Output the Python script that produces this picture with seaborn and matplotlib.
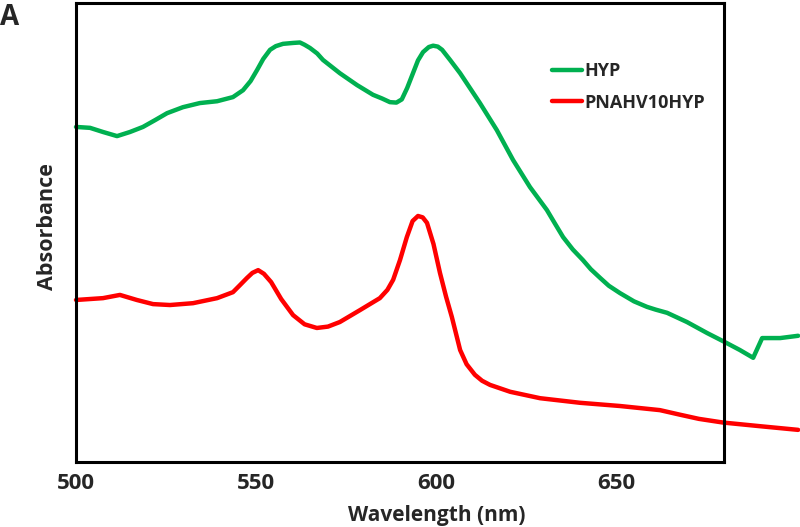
import numpy as np
import pandas as pd
import seaborn as sns
import matplotlib.pyplot as plt

# HYP spectrum (arbitrary absorbance units)
hyp_wl = [500.0, 503.9, 507.5, 511.4, 515.0, 518.6, 522.0, 525.3, 529.7, 534.4,
          539.2, 543.6, 546.4, 548.5, 550.3, 552.0, 553.9, 555.5, 557.5, 560.3,
          562.2, 563.5, 565.0, 567.0, 568.6, 573.3, 578.1, 582.5, 585.0, 587.2,
          589.0, 590.5, 592.0, 593.6, 595.0, 596.4, 598.0, 599.2, 600.5, 601.7,
          604.0, 606.7, 612.2, 616.9, 621.4, 626.1, 630.8, 633.0, 635.3, 638.0,
          640.8, 643.0, 645.6, 648.0, 651.1, 655.0, 658.6, 661.0, 664.2, 669.7,
          675.3, 680.3, 684.4, 688.1, 690.6, 695.6, 700.6]
hyp_abs = [0.730, 0.728, 0.719, 0.710, 0.719, 0.730, 0.745, 0.760, 0.773, 0.782,
           0.786, 0.795, 0.810, 0.830, 0.854, 0.878, 0.898, 0.906, 0.911, 0.913,
           0.914, 0.909, 0.902, 0.890, 0.876, 0.847, 0.821, 0.800, 0.792, 0.784,
           0.783, 0.790, 0.815, 0.847, 0.875, 0.893, 0.904, 0.907, 0.905, 0.898,
           0.875, 0.847, 0.782, 0.723, 0.658, 0.599, 0.549, 0.520, 0.490, 0.463,
           0.440, 0.420, 0.401, 0.384, 0.368, 0.350, 0.338, 0.332, 0.325, 0.305,
           0.281, 0.261, 0.244, 0.227, 0.270, 0.270, 0.275]

# PNAHV10HYP spectrum
pna_wl = [500.0, 507.5, 512.2, 516.9, 521.4, 526.1, 532.5, 539.2, 543.6, 545.5,
          547.5, 549.0, 550.6, 552.2, 554.2, 557.0, 560.3, 563.5, 566.9, 570.0,
          573.3, 578.9, 584.4, 586.5, 588.1, 590.0, 591.9, 593.5, 595.0, 596.3,
          597.5, 599.3, 601.1, 602.8, 604.4, 606.7, 608.5, 610.8, 612.8, 615.0,
          620.6, 628.9, 640.0, 651.1, 662.2, 667.8, 673.0, 679.7, 690.0, 700.6]
pna_abs = [0.353, 0.357, 0.364, 0.353, 0.344, 0.342, 0.346, 0.357, 0.370, 0.385,
           0.401, 0.412, 0.418, 0.410, 0.392, 0.355, 0.320, 0.300, 0.292, 0.295,
           0.305, 0.331, 0.357, 0.375, 0.397, 0.440, 0.490, 0.525, 0.536, 0.533,
           0.521, 0.475, 0.412, 0.360, 0.316, 0.244, 0.213, 0.190, 0.177, 0.168,
           0.153, 0.139, 0.129, 0.122, 0.113, 0.103, 0.094, 0.086, 0.078, 0.070]

x_ticks = [500, 550, 600, 650]

sns.set_style("white")
plt.rcParams['font.family'] = ['Open Sans', 'DejaVu Sans']
plt.rcParams['font.weight'] = 'bold'

fig = plt.figure(figsize=(8, 5.27), dpi=100)
ax = fig.add_axes([76 / 800, 1 - 462 / 527, 648 / 800, 459 / 527])

df_hyp = pd.DataFrame({'wl': hyp_wl, 'abs': hyp_abs})
df_pna = pd.DataFrame({'wl': pna_wl, 'abs': pna_abs})
sns.lineplot(data=df_hyp, x='wl', y='abs', ax=ax, color='#00B050', lw=3.2,
             label='HYP', clip_on=False, sort=False)
sns.lineplot(data=df_pna, x='wl', y='abs', ax=ax, color='#FF0000', lw=3.2,
             label='PNAHV10HYP', clip_on=False, sort=False)
for ln in ax.lines:
    ln.set_solid_joinstyle('round')
    ln.set_solid_capstyle('round')

ax.set_xlim(500, 680)
ax.set_ylim(0, 1)
ax.set_xticks(x_ticks)
ax.set_yticks([])
ax.tick_params(axis='x', direction='in', length=5, width=2, labelsize=16, pad=8)
for lbl in ax.get_xticklabels():
    lbl.set_fontweight('bold')
for sp in ax.spines.values():
    sp.set_color('black')
    sp.set_linewidth(2.2)

ax.set_xlabel('Wavelength (nm)', fontsize=15, fontweight='bold')
ax.xaxis.set_label_coords((437 - 76) / 648, -0.093)
ax.set_ylabel('Absorbance', fontsize=15.5, fontweight='bold')
ax.yaxis.set_label_coords(-0.028, 0.514)

ax.legend(loc='upper left', bbox_to_anchor=((552 - 76) / 648, 1 - (62 - 3) / 459),
          frameon=False, handlelength=1.65, handletextpad=0.12,
          labelspacing=0.75, borderpad=0, borderaxespad=0,
          prop={'weight': 'bold', 'size': 13})

fig.text(0.0, 1 - 25 / 527, 'A', fontsize=20, fontweight='bold', ha='left', va='baseline')

fig.savefig('out.png', dpi=100)
